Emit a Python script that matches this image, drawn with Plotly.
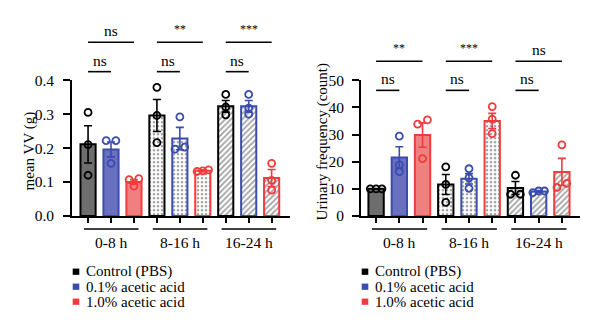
import plotly.graph_objects as go

W, H = 600, 336

groups = ["0-8 h", "8-16 h", "16-24 h"]
series = ["Control (PBS)", "0.1% acetic acid", "1.0% acetic acid"]

# ---- mean VV (g) ----
vv_ctrl_mean = [0.211, 0.296, 0.323]
vv_low_mean = [0.196, 0.228, 0.323]
vv_high_mean = [0.100, 0.133, 0.112]
vv_ctrl_sem = [0.055, 0.047, 0.017]
vv_low_sem = [0.022, 0.033, 0.017]
vv_high_sem = [0.007, 0.003, 0.025]
vv_ctrl_pts = [[0.305, 0.210, 0.120], [0.379, 0.296, 0.216], [0.358, 0.321, 0.298]]
vv_low_pts = [[0.222, 0.222, 0.155], [0.292, 0.197, 0.203], [0.358, 0.318, 0.300]]
vv_high_pts = [[0.110, 0.107, 0.088], [0.136, 0.131, 0.133], [0.155, 0.105, 0.076]]
vv_ticks = [0.0, 0.1, 0.2, 0.3, 0.4]
vv_sig_top = ["ns", "**", "***"]   # control vs 1.0%
vv_sig_low = ["ns", "ns", "ns"]    # control vs 0.1%

# ---- Urinary frequency (count) ----
uf_ctrl_mean = [10.0, 11.6, 10.3]
uf_low_mean = [21.5, 13.7, 9.0]
uf_high_mean = [29.8, 35.0, 16.2]
uf_ctrl_sem = [0.0, 3.7, 2.4]
uf_low_sem = [4.0, 1.9, 0.4]
uf_high_sem = [4.5, 2.8, 5.0]
uf_ctrl_pts = [[10, 10, 10], [18.1, 11.6, 5.0], [15.0, 8.0, 8.0]]
uf_low_pts = [[29.4, 18.8, 16.3], [17.4, 14.0, 10.2], [9.2, 9.2, 8.6]]
uf_high_pts = [[35.4, 33.8, 21.1], [40.3, 35.7, 30.3], [26.2, 12.0, 10.5]]
uf_ticks = [0, 10, 20, 30, 40, 50]
uf_sig_top = ["**", "***", "ns"]
uf_sig_low = ["ns", "ns", "ns"]

FONT = "Liberation Serif, Times New Roman, serif"
line_colors = ["#000000", "#3b4cb0", "#f03c3c"]
solid_fill = ["#6e6e6e", "#6a70c0", "#f07f7f"]
dot_colors = ["#000000", "#6a74c8", "#f7a0a0"]
stripe_colors = ["#000000", "#3b4cb0", "#f04848"]
legend_colors = ["#000000", "#3b4cb0", "#f03c3c"]


def px(x):
    return x / W


def py(y):
    return 1 - y / H


def jitter(vals, thr):
    order = sorted(range(len(vals)), key=lambda i: vals[i])
    clusters = []
    for i in order:
        if clusters and abs(vals[i] - vals[clusters[-1][-1]]) < thr:
            clusters[-1].append(i)
        else:
            clusters.append([i])
    off = [0.0] * len(vals)
    for c in clusters:
        n = len(c)
        if n == 2:
            for k, i in enumerate(c):
                off[i] = [-0.21, 0.21][k]
        elif n >= 3:
            for k, i in enumerate(c):
                off[i] = -0.25 + 0.5 * k / (n - 1)
    return off


fig = go.Figure()

panels = [
    dict(xa="x", ya="y", means=[vv_ctrl_mean, vv_low_mean, vv_high_mean],
         sems=[vv_ctrl_sem, vv_low_sem, vv_high_sem],
         pts=[vv_ctrl_pts, vv_low_pts, vv_high_pts], thr=0.018),
    dict(xa="x2", ya="y2", means=[uf_ctrl_mean, uf_low_mean, uf_high_mean],
         sems=[uf_ctrl_sem, uf_low_sem, uf_high_sem],
         pts=[uf_ctrl_pts, uf_low_pts, uf_high_pts], thr=2.2),
]

for p in panels:
    for s in range(3):
        xs = [g * 3 + s for g in range(3)]
        fig.add_trace(go.Bar(
            x=xs, y=p["means"][s], width=0.66, xaxis=p["xa"], yaxis=p["ya"],
            name=series[s], showlegend=False,
            marker=dict(
                color=[solid_fill[s], "white", "white"],
                line=dict(color=line_colors[s], width=2),
                pattern=dict(shape=["", ".", "/"],
                             fgcolor=[solid_fill[s], dot_colors[s], stripe_colors[s]],
                             fillmode="overlay", size=[8, 4, 4], solidity=[0.3, 0.35, 0.45]),
            ),
            error_y=dict(type="data", array=p["sems"][s], color=line_colors[s],
                         thickness=1.6, width=4),
        ))
    for s in range(3):
        xs, ys = [], []
        for g in range(3):
            vals = p["pts"][s][g]
            offs = jitter(vals, p["thr"])
            for v, o in zip(vals, offs):
                xs.append(g * 3 + s + o)
                ys.append(v)
        fig.add_trace(go.Scatter(
            x=xs, y=ys, mode="markers", xaxis=p["xa"], yaxis=p["ya"], showlegend=False,
            cliponaxis=False,
            marker=dict(symbol="circle-open", size=7, color=line_colors[s],
                        line=dict(width=1.8, color=line_colors[s])),
        ))

ydom = [py(218), py(75)]
axis_common = dict(showline=True, linecolor="black", linewidth=1.6, ticks="outside",
                   tickcolor="black", tickwidth=1.6, showgrid=False, zeroline=False,
                   tickfont=dict(family=FONT, size=15.5, color="black"))

fig.update_layout(
    width=W, height=H, margin=dict(l=0, r=0, t=0, b=0),
    paper_bgcolor="white", plot_bgcolor="white", barmode="overlay",
    font=dict(family=FONT, size=15, color="black"),
    xaxis=dict(domain=[px(72), px(290)], range=[-0.7, 8.8], anchor="y",
               tickvals=list(range(9)), ticktext=[""] * 9, ticklen=5, **axis_common),
    yaxis=dict(domain=ydom, range=[0, 0.4], anchor="x", tickvals=vv_ticks,
               ticktext=[f"{v:.1f}" for v in vv_ticks], ticklen=7, ticklabelstandoff=6,
               **axis_common),
    xaxis2=dict(domain=[px(361), px(580)], range=[-0.65, 8.78], anchor="y2",
                tickvals=list(range(9)), ticktext=[""] * 9, ticklen=5, **axis_common),
    yaxis2=dict(domain=ydom, range=[0, 50], anchor="x2", tickvals=uf_ticks,
                ticktext=[str(v) for v in uf_ticks], ticklen=7, ticklabelstandoff=5,
                **axis_common),
)

# axis titles
fig.add_annotation(text="mean VV (g)", xref="paper", yref="paper", x=px(29), y=py(150),
                   xanchor="center", yanchor="middle",
                   textangle=-90, showarrow=False, font=dict(family=FONT, size=15, color="black"))
fig.add_annotation(text="Urinary frequency (count)", xref="paper", yref="paper",
                   x=px(322.5), y=py(140), xanchor="center", yanchor="middle",
                   textangle=-90, showarrow=False,
                   font=dict(family=FONT, size=15, color="black"))

# group lines and labels; significance brackets; legends
spec = [
    dict(xr="x", top=vv_sig_top, low=vv_sig_low, ytop=35, ylow=66, leg_x=72.7),
    dict(xr="x2", top=uf_sig_top, low=uf_sig_low, ytop=55, ylow=85.7, leg_x=361.7),
]
for sp in spec:
    for g in range(3):
        c = g * 3
        fig.add_shape(type="line", xref=sp["xr"], yref="paper", x0=c - 0.18, x1=c + 2.2,
                      y0=py(231.7), y1=py(231.7), line=dict(color="black", width=1.6))
        fig.add_annotation(text=groups[g], xref=sp["xr"], yref="paper", x=c + 1, y=py(245.5),
                           xanchor="center", yanchor="middle",
                           showarrow=False, font=dict(family=FONT, size=15.5, color="black"))
        # brackets
        for lbl, yline, x0, x1 in [(sp["top"][g], sp["ytop"], c, c + 2),
                                   (sp["low"][g], sp["ylow"], c, c + 1)]:
            fig.add_shape(type="line", xref=sp["xr"], yref="paper", x0=x0, x1=x1,
                          y0=py(yline), y1=py(yline), line=dict(color="black", width=1.6))
            star = "*" in lbl
            fig.add_annotation(text=lbl, xref=sp["xr"], yref="paper", x=(x0 + x1) / 2,
                               y=py(yline - (4 if star else 1)), yanchor="bottom",
                               xanchor="center", showarrow=False,
                               font=dict(family=FONT, size=12 if star else 15.5, color="black"))
    for s in range(3):
        yc = [276.7, 292.5, 308.3][s]
        fig.add_shape(type="rect", xref="paper", yref="paper",
                      x0=px(sp["leg_x"]), x1=px(sp["leg_x"] + 6.6),
                      y0=py(yc + 3.3), y1=py(yc - 3.3),
                      fillcolor=legend_colors[s], line=dict(width=0))
        fig.add_annotation(text=series[s], xref="paper", yref="paper",
                           x=px(sp["leg_x"] + 11), y=py(yc), xanchor="left", yanchor="middle",
                           showarrow=False, font=dict(family=FONT, size=15, color="black"))

fig.write_html("out.html")
